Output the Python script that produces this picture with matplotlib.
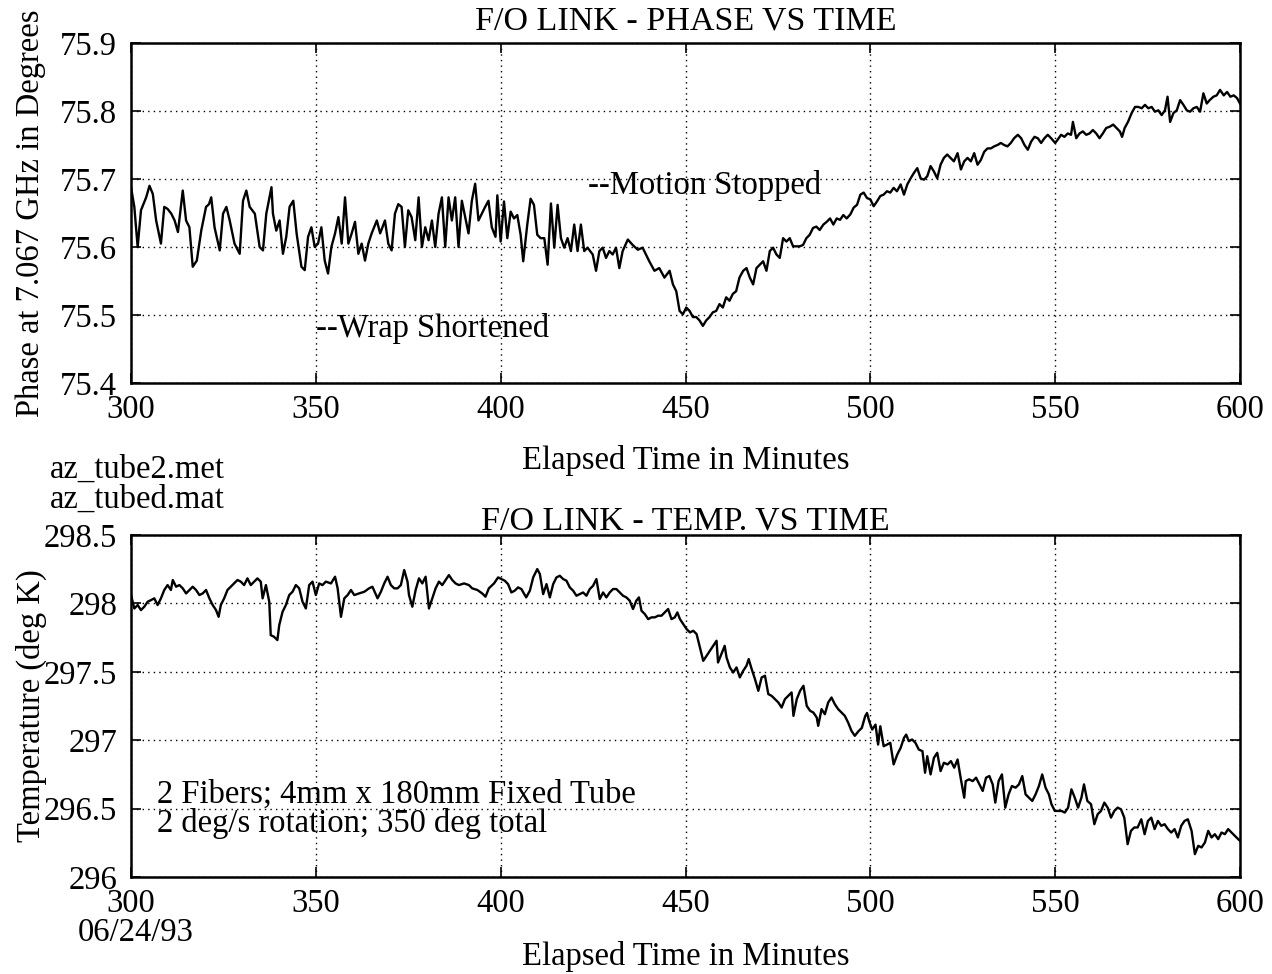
import matplotlib.pyplot as plt
import numpy as np

# phase trace (minutes, degrees)
t_phase = [300.0, 300.9, 301.8, 302.7, 304.1, 305.0, 305.9, 306.8, 308.1, 309.0,
           309.9, 310.9, 311.8, 312.7, 314.0, 314.9, 315.8, 316.7, 317.8, 319.0,
           320.3, 321.1, 321.7, 322.6, 324.0, 324.9, 325.8, 326.7, 328.0, 329.4,
           330.3, 331.2, 332.1, 333.5, 334.8, 335.7, 336.6, 338.0, 338.4, 339.3,
           340.2, 341.1, 342.0, 342.9, 343.9, 344.8, 346.1, 347.0, 347.9, 348.8,
           349.7, 350.6, 351.5, 352.4, 353.3, 354.2, 355.2, 356.1, 357.0, 357.9,
           358.8, 359.7, 360.6, 361.5, 362.4, 363.3, 364.2, 365.1, 366.5, 367.4,
           368.7, 369.6, 370.5, 371.4, 372.3, 373.2, 374.1, 375.0, 375.9, 376.9,
           377.8, 378.7, 379.6, 380.5, 381.4, 382.3, 383.2, 384.1, 385.0, 385.9,
           386.8, 387.7, 388.6, 389.5, 390.4, 391.3, 392.2, 393.1, 394.0, 394.9,
           395.8, 396.7, 397.6, 398.6, 399.1, 400.0, 400.9, 401.8, 402.7, 403.6,
           404.5, 405.4, 406.1, 407.2, 408.1, 409.0, 409.9, 410.8, 411.8, 412.7,
           413.6, 414.5, 415.4, 416.3, 417.2, 418.1, 419.0, 419.9, 420.8, 421.7,
           422.6, 423.5, 424.9, 425.8, 426.7, 427.6, 428.5, 429.4, 430.3, 431.2,
           432.1, 433.0, 434.4, 435.7, 437.1, 438.4, 439.3, 440.2, 441.6, 442.9,
           444.3, 445.7, 446.6, 447.5, 448.4, 449.3, 450.2, 451.1, 452.0, 452.9,
           453.8, 454.7, 455.6, 456.5, 457.4, 458.3, 459.2, 460.1, 461.0, 461.9,
           462.8, 463.7, 464.6, 465.6, 466.5, 467.4, 468.3, 469.2, 470.1, 471.0,
           471.9, 472.8, 473.7, 474.6, 475.5, 476.4, 477.3, 478.2, 479.1, 480.0,
           480.9, 481.8, 482.7, 483.6, 484.5, 485.4, 486.3, 487.3, 488.2, 489.1,
           490.0, 490.9, 491.8, 492.7, 493.6, 494.6, 495.5, 496.4, 497.3, 498.2,
           499.1, 500.0, 500.9, 501.8, 502.7, 503.6, 504.5, 505.4, 506.3, 507.2,
           508.2, 509.1, 510.0, 510.9, 511.8, 512.7, 513.6, 514.5, 515.4, 516.3,
           517.2, 518.1, 519.0, 519.9, 520.8, 521.7, 522.6, 523.6, 524.5, 525.4,
           526.3, 527.2, 528.1, 529.0, 529.9, 530.8, 531.7, 532.6, 533.5, 534.4,
           535.3, 536.2, 537.1, 538.0, 538.9, 539.9, 540.8, 541.7, 542.6, 543.5,
           544.4, 545.3, 546.2, 547.1, 548.0, 548.9, 550.0, 550.7, 551.6, 552.5,
           553.4, 554.3, 554.8, 555.7, 556.6, 557.5, 558.4, 559.3, 560.2, 561.1,
           562.0, 562.9, 563.8, 564.8, 565.7, 566.6, 567.5, 568.1, 568.8, 569.7,
           570.7, 571.6, 572.5, 573.4, 574.3, 575.2, 576.1, 577.0, 577.9, 578.8,
           579.7, 580.4, 581.1, 582.0, 582.9, 583.8, 584.7, 585.6, 586.5, 587.4,
           588.3, 589.2, 590.1, 591.0, 591.8, 592.8, 593.7, 594.6, 595.6, 596.5,
           597.4, 598.3, 599.2, 600.0]
phase = [75.688, 75.659, 75.600, 75.654, 75.673, 75.690, 75.678, 75.639, 75.605, 75.659,
         75.656, 75.649, 75.639, 75.622, 75.683, 75.639, 75.629, 75.571, 75.580, 75.624,
         75.659, 75.663, 75.673, 75.629, 75.595, 75.649, 75.659, 75.639, 75.605, 75.590,
         75.668, 75.683, 75.659, 75.649, 75.600, 75.595, 75.649, 75.688, 75.649, 75.624,
         75.639, 75.590, 75.615, 75.659, 75.668, 75.620, 75.571, 75.566, 75.615, 75.629,
         75.600, 75.605, 75.629, 75.580, 75.561, 75.600, 75.620, 75.644, 75.605, 75.673,
         75.605, 75.620, 75.637, 75.590, 75.605, 75.580, 75.605, 75.620, 75.639, 75.620,
         75.639, 75.605, 75.595, 75.649, 75.663, 75.659, 75.600, 75.654, 75.644, 75.610,
         75.673, 75.600, 75.629, 75.610, 75.639, 75.600, 75.649, 75.673, 75.600, 75.673,
         75.639, 75.673, 75.600, 75.668, 75.644, 75.620, 75.668, 75.693, 75.639, 75.649,
         75.659, 75.668, 75.629, 75.615, 75.676, 75.608, 75.667, 75.613, 75.652, 75.642,
         75.647, 75.618, 75.579, 75.633, 75.671, 75.662, 75.618, 75.613, 75.613, 75.574,
         75.664, 75.599, 75.662, 75.613, 75.599, 75.613, 75.594, 75.633, 75.594, 75.633,
         75.594, 75.599, 75.589, 75.565, 75.594, 75.599, 75.584, 75.594, 75.589, 75.599,
         75.569, 75.594, 75.611, 75.603, 75.596, 75.599, 75.589, 75.579, 75.565, 75.569,
         75.555, 75.565, 75.545, 75.535, 75.506, 75.501, 75.511, 75.506, 75.497, 75.497,
         75.492, 75.484, 75.492, 75.497, 75.504, 75.506, 75.516, 75.511, 75.526, 75.521,
         75.531, 75.535, 75.555, 75.565, 75.569, 75.555, 75.545, 75.569, 75.574, 75.579,
         75.565, 75.594, 75.599, 75.589, 75.584, 75.613, 75.608, 75.613, 75.601, 75.601,
         75.601, 75.603, 75.613, 75.618, 75.628, 75.630, 75.625, 75.633, 75.637, 75.642,
         75.633, 75.642, 75.640, 75.647, 75.642, 75.648, 75.658, 75.662, 75.677, 75.680,
         75.672, 75.670, 75.660, 75.667, 75.675, 75.677, 75.682, 75.680, 75.687, 75.682,
         75.692, 75.677, 75.692, 75.701, 75.709, 75.716, 75.701, 75.699, 75.704, 75.719,
         75.711, 75.701, 75.721, 75.731, 75.736, 75.731, 75.726, 75.738, 75.714, 75.726,
         75.731, 75.726, 75.738, 75.721, 75.728, 75.740, 75.745, 75.745, 75.748, 75.750,
         75.753, 75.750, 75.748, 75.753, 75.760, 75.765, 75.760, 75.750, 75.743, 75.755,
         75.762, 75.760, 75.753, 75.760, 75.765, 75.760, 75.753, 75.758, 75.765, 75.762,
         75.767, 75.765, 75.784, 75.760, 75.767, 75.770, 75.765, 75.767, 75.772, 75.767,
         75.760, 75.767, 75.775, 75.777, 75.780, 75.775, 75.770, 75.762, 75.775, 75.784,
         75.797, 75.806, 75.806, 75.804, 75.809, 75.804, 75.806, 75.799, 75.801, 75.794,
         75.801, 75.821, 75.784, 75.797, 75.801, 75.816, 75.809, 75.801, 75.799, 75.804,
         75.806, 75.799, 75.826, 75.811, 75.816, 75.821, 75.823, 75.831, 75.823, 75.828,
         75.821, 75.823, 75.819, 75.811]

# temperature trace (minutes, deg K)
t_temp = [300.0, 300.9, 301.8, 302.7, 303.6, 304.5, 305.4, 306.3, 307.2, 308.1,
          309.0, 309.9, 310.8, 311.3, 312.2, 313.1, 314.0, 314.9, 315.8, 316.7,
          317.6, 318.5, 319.4, 320.3, 321.2, 322.1, 323.0, 323.7, 324.3, 325.2,
          326.1, 327.0, 327.9, 328.8, 329.7, 330.6, 331.5, 332.4, 333.3, 334.2,
          335.1, 335.6, 336.5, 337.4, 337.8, 338.7, 339.6, 340.1, 341.0, 341.9,
          342.8, 343.7, 344.6, 345.5, 346.4, 347.3, 348.2, 349.1, 350.0, 350.9,
          351.8, 352.7, 354.1, 355.2, 355.9, 356.8, 357.7, 358.6, 359.5, 360.4,
          361.7, 363.1, 364.4, 365.3, 366.7, 367.6, 368.5, 369.4, 370.3, 371.2,
          372.1, 373.0, 373.9, 374.8, 375.2, 376.1, 377.0, 377.9, 378.8, 379.7,
          380.6, 381.5, 382.4, 383.3, 384.2, 385.1, 386.0, 386.9, 387.8, 388.7,
          390.1, 391.4, 392.3, 393.7, 395.0, 395.9, 396.8, 398.2, 399.3, 400.2,
          401.1, 402.0, 402.9, 403.8, 404.7, 405.6, 406.9, 407.9, 408.8, 409.9,
          410.6, 411.5, 412.4, 413.3, 414.2, 415.1, 416.0, 416.9, 417.8, 418.7,
          419.6, 420.5, 421.4, 422.3, 423.2, 424.1, 425.0, 425.9, 426.8, 427.7,
          428.6, 429.5, 430.4, 431.3, 432.2, 433.1, 434.0, 434.9, 435.8, 436.7,
          437.4, 438.1, 439.0, 439.9, 440.8, 441.7, 442.6, 443.5, 444.4, 445.3,
          446.2, 447.1, 447.8, 448.5, 449.4, 450.3, 451.2, 452.1, 453.0, 453.9,
          454.8, 455.7, 456.6, 457.5, 458.4, 458.8, 459.7, 460.6, 461.1, 462.0,
          462.9, 463.8, 464.7, 465.6, 466.5, 467.1, 467.9, 468.8, 469.7, 470.6,
          471.5, 472.4, 473.3, 474.2, 475.1, 476.0, 476.9, 477.8, 478.7, 479.2,
          480.1, 481.0, 481.9, 482.8, 483.7, 484.6, 485.5, 485.9, 486.8, 487.7,
          488.6, 489.5, 490.4, 491.3, 492.2, 493.1, 494.0, 494.9, 495.8, 496.8,
          497.7, 498.6, 499.1, 499.7, 500.5, 501.4, 502.1, 502.7, 503.6, 504.5,
          505.4, 506.3, 507.3, 508.2, 509.1, 509.7, 510.4, 511.3, 512.2, 513.1,
          514.1, 514.8, 515.4, 516.3, 517.2, 518.1, 519.0, 519.9, 520.9, 521.8,
          522.7, 523.6, 524.5, 525.4, 525.8, 526.7, 527.7, 528.6, 529.5, 530.4,
          531.3, 532.2, 533.1, 533.8, 534.7, 535.6, 536.5, 537.4, 538.3, 539.3,
          540.2, 541.1, 542.0, 542.9, 543.8, 544.7, 545.6, 546.5, 547.4, 548.3,
          549.0, 549.9, 550.8, 551.7, 552.6, 553.5, 554.4, 555.3, 556.2, 557.1,
          557.8, 558.7, 559.7, 560.6, 561.5, 562.4, 563.3, 564.2, 565.1, 566.0,
          566.9, 567.8, 568.7, 569.6, 570.5, 571.4, 572.3, 573.3, 574.2, 575.1,
          576.0, 576.9, 577.8, 578.7, 579.6, 580.5, 581.4, 582.3, 583.2, 584.1,
          585.0, 585.9, 586.9, 587.8, 588.7, 589.6, 590.5, 591.4, 592.3, 593.2,
          594.1, 595.0, 595.9, 596.8, 597.7, 598.6, 599.5, 600.0]
temp = [298.061, 297.963, 297.988, 297.951, 297.976, 298.012, 298.024, 298.037, 297.988, 298.037,
        298.098, 298.134, 298.098, 298.171, 298.122, 298.134, 298.110, 298.073, 298.098, 298.122,
        298.098, 298.061, 298.073, 298.098, 298.037, 297.988, 297.951, 297.902, 297.988, 298.037,
        298.098, 298.122, 298.146, 298.171, 298.159, 298.134, 298.183, 298.134, 298.159, 298.183,
        298.159, 298.037, 298.134, 298.012, 297.768, 297.756, 297.732, 297.841, 297.939, 297.988,
        298.061, 298.085, 298.134, 298.110, 298.012, 297.963, 298.134, 298.159, 298.061, 298.146,
        298.134, 298.159, 298.146, 298.195, 298.110, 297.902, 298.037, 298.061, 298.098, 298.061,
        298.073, 298.085, 298.110, 298.122, 298.037, 298.085, 298.146, 298.195, 298.134, 298.110,
        298.110, 298.134, 298.244, 298.159, 298.061, 297.976, 298.098, 298.183, 298.146, 298.195,
        297.963, 298.037, 298.110, 298.159, 298.134, 298.171, 298.207, 298.171, 298.146, 298.134,
        298.146, 298.134, 298.110, 298.098, 298.073, 298.049, 298.110, 298.146, 298.190, 298.178,
        298.166, 298.141, 298.080, 298.093, 298.117, 298.105, 298.044, 298.093, 298.190, 298.251,
        298.215, 298.068, 298.141, 298.044, 298.141, 298.190, 298.202, 298.178, 298.166, 298.117,
        298.093, 298.056, 298.068, 298.080, 298.056, 298.105, 298.129, 298.178, 298.032, 298.080,
        298.044, 298.080, 298.105, 298.105, 298.080, 298.056, 298.044, 298.020, 297.959, 298.020,
        298.044, 297.946, 297.922, 297.885, 297.898, 297.898, 297.910, 297.910, 297.934, 297.959,
        297.885, 297.898, 297.934, 297.885, 297.849, 297.812, 297.788, 297.800, 297.776, 297.678,
        297.580, 297.617, 297.654, 297.690, 297.727, 297.568, 297.629, 297.690, 297.605, 297.532,
        297.495, 297.532, 297.459, 297.507, 297.544, 297.593, 297.520, 297.446, 297.361, 297.459,
        297.471, 297.337, 297.324, 297.300, 297.276, 297.239, 297.300, 297.324, 297.349, 297.178,
        297.300, 297.361, 297.398, 297.251, 297.215, 297.202, 297.166, 297.105, 297.227, 297.190,
        297.276, 297.312, 297.263, 297.227, 297.202, 297.178, 297.129, 297.068, 297.032, 297.066,
        297.090, 297.175, 297.199, 297.138, 297.078, 297.114, 296.968, 297.102, 296.956, 296.968,
        296.981, 296.823, 296.896, 296.944, 297.017, 297.041, 296.993, 297.005, 296.981, 296.932,
        296.920, 296.762, 296.883, 296.750, 296.871, 296.908, 296.774, 296.835, 296.823, 296.847,
        296.799, 296.859, 296.714, 296.580, 296.701, 296.714, 296.701, 296.726, 296.677, 296.629,
        296.726, 296.738, 296.677, 296.544, 296.701, 296.750, 296.507, 296.604, 296.665, 296.653,
        296.677, 296.738, 296.604, 296.580, 296.556, 296.604, 296.665, 296.750, 296.653, 296.604,
        296.532, 296.483, 296.483, 296.483, 296.471, 296.507, 296.641, 296.580, 296.507, 296.580,
        296.677, 296.556, 296.532, 296.386, 296.459, 296.483, 296.544, 296.507, 296.434, 296.483,
        296.507, 296.495, 296.434, 296.240, 296.337, 296.362, 296.362, 296.422, 296.313, 296.410,
        296.434, 296.350, 296.410, 296.374, 296.386, 296.350, 296.325, 296.350, 296.289, 296.374,
        296.410, 296.422, 296.337, 296.167, 296.228, 296.216, 296.252, 296.337, 296.289, 296.313,
        296.277, 296.325, 296.313, 296.350, 296.325, 296.301, 296.277, 296.265]

x_ticks = [300, 350, 400, 450, 500, 550, 600]
phase_ticks = [75.4, 75.5, 75.6, 75.7, 75.8, 75.9]
phase_labels = ['75.4', '75.5', '75.6', '75.7', '75.8', '75.9']
temp_ticks = [296, 296.5, 297, 297.5, 298, 298.5]
temp_labels = ['296', '296.5', '297', '297.5', '298', '298.5']

FS = 23.5


def style(ax):
    ax.grid(True, color='black', linestyle=(0, (1, 3)), linewidth=1.0)
    ax.tick_params(direction='in', length=7, width=1.2, top=True, right=True,
                   labelsize=23.5, pad=10)
    ax.tick_params(axis='x', pad=8)
    for s in ax.spines.values():
        s.set_linewidth(1.8)
    ax.set_xlim(300, 600)
    ax.set_xticks(x_ticks)


plt.rcParams['font.family'] = ['Liberation Serif', 'DejaVu Serif']

fig = plt.figure(figsize=(12.72, 9.74), dpi=100)
W, H = 1272, 974

ax1 = fig.add_axes([131 / W, 1 - 383 / H, 1109 / W, 340 / H])
ax1.plot(t_phase, phase, color='black', linewidth=1.7)
style(ax1)
ax1.set_ylim(75.4, 75.9)
ax1.set_yticks(phase_ticks)
ax1.set_yticklabels(phase_labels)
ax1.set_title('F/O LINK - PHASE VS TIME', fontsize=24.5, pad=10)
ax1.set_ylabel('Phase at 7.067 GHz in Degrees', fontsize=FS, labelpad=10)
ax1.text(423.6, 75.69, '--Motion Stopped', fontsize=FS, va='center')
ax1.text(350.0, 75.48, '--Wrap Shortened', fontsize=FS, va='center')

ax2 = fig.add_axes([131 / W, 1 - 877 / H, 1109 / W, 342 / H])
ax2.plot(t_temp, temp, color='black', linewidth=1.7)
style(ax2)
ax2.set_ylim(296, 298.5)
ax2.set_yticks(temp_ticks)
ax2.set_yticklabels(temp_labels)
ax2.set_title('F/O LINK - TEMP. VS TIME', fontsize=24.5, pad=4)
ax2.set_ylabel('Temperature (deg K)', fontsize=FS, labelpad=-2)
ax2.text(307.0, 296.605, '2 Fibers; 4mm x 180mm Fixed Tube', fontsize=FS, va='center')
ax2.text(307.0, 296.39, '2 deg/s rotation; 350 deg total', fontsize=FS, va='center')

fig.text(686 / W, 1 - 469 / H, 'Elapsed Time in Minutes', fontsize=FS,
         ha='center', va='baseline')
fig.text(686 / W, 1 - 965 / H, 'Elapsed Time in Minutes', fontsize=FS,
         ha='center', va='baseline')
fig.text(50 / W, 1 - 478 / H, 'az_tube2.met', fontsize=FS, va='baseline')
fig.text(50 / W, 1 - 508 / H, 'az_tubed.mat', fontsize=FS, va='baseline')
fig.text(78 / W, 1 - 941 / H, '06/24/93', fontsize=FS, va='baseline')

fig.savefig('out.png', dpi=100)
